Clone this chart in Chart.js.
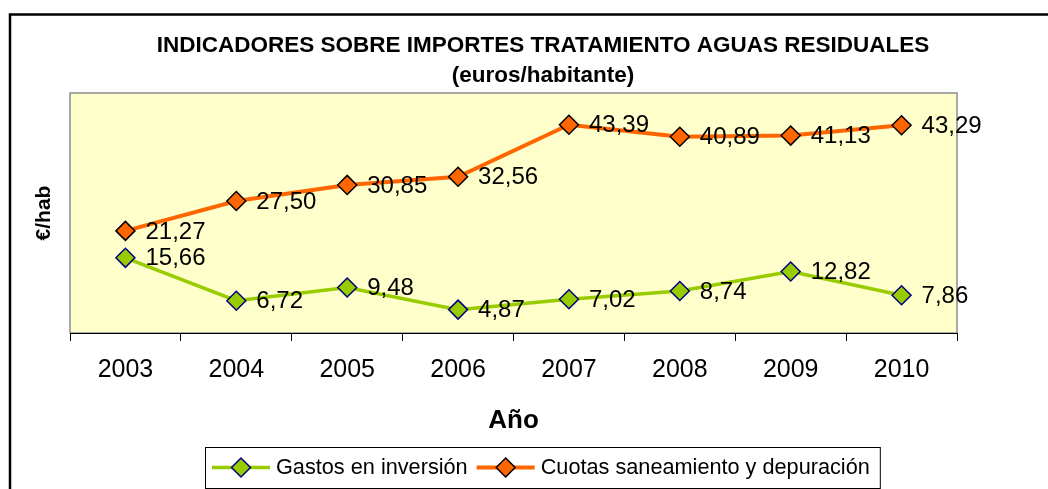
<!DOCTYPE html>
<html>
<head>
<meta charset="utf-8">
<script src="https://cdn.jsdelivr.net/npm/chart.js@4"></script>
<style>
  html, body { margin: 0; padding: 0; background: #fff; overflow: hidden; }
  #wrap { width: 1086px; height: 489px; }
</style>
</head>
<body>
<div id="wrap"><canvas id="myChart" width="1086" height="489"></canvas></div>
<script>
const years = ['2003', '2004', '2005', '2006', '2007', '2008', '2009', '2010'];
const gastos = [15.66, 6.72, 9.48, 4.87, 7.02, 8.74, 12.82, 7.86];
const cuotas = [21.27, 27.50, 30.85, 32.56, 43.39, 40.89, 41.13, 43.29];
const yMin = 0;
const yMax = 50;

const FONT = "'Liberation Sans', Arial, sans-serif";

// yellow plot background + gray frame, outer chart border
const plotBack = {
    id: 'plotBack',
    beforeDraw(chart) {
        const ctx = chart.ctx;
        const a = chart.chartArea;
        ctx.save();
        ctx.strokeStyle = '#000';
        ctx.lineWidth = 2.5;
        ctx.strokeRect(10, 14.5, 1200, 600);
        ctx.fillStyle = '#FFFFCC';
        ctx.fillRect(a.left, a.top, a.right - a.left, a.bottom - a.top);
        ctx.strokeStyle = '#8c8c8c';
        ctx.lineWidth = 1.5;
        ctx.strokeRect(a.left, a.top, a.right - a.left, a.bottom - a.top);
        ctx.restore();
    }
};

// value labels right of each point
const valueLabels = {
    id: 'valueLabels',
    afterDatasetsDraw(chart) {
        const ctx = chart.ctx;
        ctx.save();
        ctx.font = '24px ' + FONT;
        ctx.fillStyle = '#000';
        ctx.textAlign = 'left';
        ctx.textBaseline = 'middle';
        chart.data.datasets.forEach((ds, i) => {
            chart.getDatasetMeta(i).data.forEach((pt, j) => {
                ctx.fillText(ds.data[j].toFixed(2).replace('.', ','), pt.x + 20, pt.y + 1);
            });
        });
        ctx.restore();
    }
};

// excel style legend: line + diamond, boxed
const boxLegend = {
    id: 'boxLegend',
    afterDraw(chart) {
        const ctx = chart.ctx;
        const sets = chart.data.datasets;
        ctx.save();
        ctx.font = '21.7px ' + FONT;
        const lineW = 58, gap = 6, itemGap = 9, padL = 7, padR = 10;
        let total = padL + padR;
        sets.forEach((ds, i) => {
            total += lineW + gap + ctx.measureText(ds.label).width;
            if (i < sets.length - 1) total += itemGap;
        });
        const cx = 542.5;
        let x = Math.round(cx - total / 2);
        const top = 447, h = 41, mid = top + h / 2;
        ctx.strokeStyle = '#000';
        ctx.lineWidth = 1;
        ctx.strokeRect(x + 0.5, top + 0.5, total, h);
        x += padL;
        sets.forEach(ds => {
            ctx.strokeStyle = ds.borderColor;
            ctx.lineWidth = ds.borderWidth;
            ctx.beginPath();
            ctx.moveTo(x, mid);
            ctx.lineTo(x + lineW, mid);
            ctx.stroke();
            const r = 9.5, px = x + lineW / 2;
            ctx.beginPath();
            ctx.moveTo(px - r, mid);
            ctx.lineTo(px, mid - r);
            ctx.lineTo(px + r, mid);
            ctx.lineTo(px, mid + r);
            ctx.closePath();
            ctx.fillStyle = ds.pointBackgroundColor;
            ctx.fill();
            ctx.strokeStyle = ds.pointBorderColor;
            ctx.lineWidth = ds.pointBorderWidth;
            ctx.stroke();
            x += lineW + gap;
            ctx.fillStyle = '#000';
            ctx.textAlign = 'left';
            ctx.textBaseline = 'middle';
            ctx.fillText(ds.label, x, mid + 1);
            x += ctx.measureText(ds.label).width + itemGap;
        });
        ctx.restore();
    }
};

const myChart = new Chart(document.getElementById('myChart').getContext('2d'), {
    type: 'line',
    data: {
        labels: years,
        datasets: [{
            label: 'Gastos en inversión',
            data: gastos,
            borderColor: '#99CC00',
            borderWidth: 3.5,
            pointStyle: 'rectRot',
            pointRadius: 9.5,
            pointHoverRadius: 9.5,
            pointBackgroundColor: '#99CC00',
            pointBorderColor: '#000080',
            pointBorderWidth: 1.5,
            tension: 0
        }, {
            label: 'Cuotas saneamiento y depuración',
            data: cuotas,
            borderColor: '#FF6600',
            borderWidth: 4,
            pointStyle: 'rectRot',
            pointRadius: 9.5,
            pointHoverRadius: 9.5,
            pointBackgroundColor: '#FF6600',
            pointBorderColor: '#000000',
            pointBorderWidth: 1.5,
            tension: 0
        }]
    },
    options: {
        responsive: false,
        animation: false,
        layout: {
            padding: { left: 0, right: 0, top: 0, bottom: 49 }
        },
        plugins: {
            legend: { display: false },
            tooltip: { enabled: false },
            title: {
                display: true,
                text: ['INDICADORES SOBRE IMPORTES TRATAMIENTO AGUAS RESIDUALES', '(euros/habitante)'],
                color: '#000',
                font: { family: FONT, size: 22.5, weight: 'bold', lineHeight: 1.3 },
                padding: { top: 31.5, bottom: 3 }
            }
        },
        scales: {
            x: {
                offset: true,
                grid: {
                    display: true,
                    offset: true,
                    drawOnChartArea: false,
                    tickLength: 8,
                    color: '#000'
                },
                border: { display: true, color: '#000', width: 1 },
                ticks: {
                    color: '#000',
                    padding: 14,
                    font: { family: FONT, size: 25 }
                },
                title: {
                    display: true,
                    text: 'Año',
                    color: '#000',
                    font: { family: FONT, size: 26, weight: 'bold', lineHeight: 1.2 },
                    padding: { top: 0, bottom: 3.5 }
                },
                afterFit(s) { s.height = 107; }
            },
            y: {
                type: 'linear',
                min: yMin,
                max: yMax,
                grid: { display: false },
                border: { display: false },
                ticks: { display: false },
                title: {
                    display: true,
                    text: '€/hab',
                    color: '#000',
                    font: { family: FONT, size: 21, weight: 'bold', lineHeight: 1.2 },
                    padding: { top: 32, bottom: 0 }
                },
                afterFit(s) { s.width = 70; }
            },
            yR: {
                type: 'linear',
                position: 'right',
                grid: { display: false },
                border: { display: false },
                ticks: { display: false },
                afterFit(s) { s.width = 129; }
            }
        }
    },
    plugins: [plotBack, valueLabels, boxLegend]
});
</script>
</body>
</html>
